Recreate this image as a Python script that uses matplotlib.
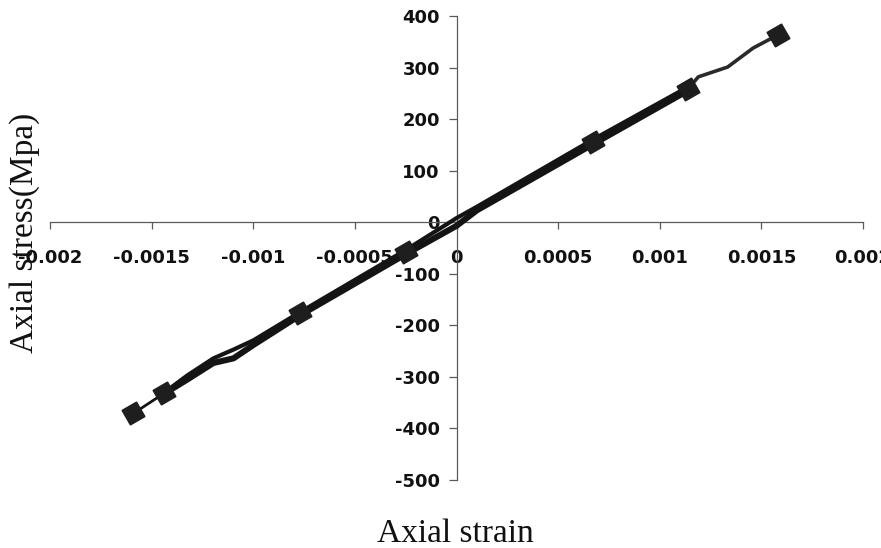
import matplotlib
matplotlib.use("Agg")
import matplotlib.pyplot as plt

# Stress-strain record of a tension/compression cycle
# upper and lower branches of the loop (strain, stress in MPa)
upper_strain = [-0.00144, -0.001324, -0.001196, -0.001097, -0.000999, -0.000768,
                -0.00025, 0.0, 0.0001, 0.00067, 0.001137]
upper_stress = [-331, -297, -264, -247, -229, -174, -54, 8, 30, 160, 262]

lower_strain = [-0.00144, -0.001324, -0.001196, -0.001097, -0.000999, -0.000768,
                -0.00025, 0.0, 0.0001, 0.00067, 0.001137]
lower_stress = [-333, -305, -273, -264, -238, -180, -62, -7, 23, 151, 255]

# thin end segments out to the extreme points
neg_tail_strain = [-0.00159, -0.00144]
neg_tail_stress = [-371, -332]
pos_tail_strain = [0.001137, 0.00119, 0.001334, 0.00146, 0.00158]
pos_tail_stress = [258, 282, 301, 338, 363]

# recorded peak points
peak_strain = [-0.00159, -0.00144, -0.000768, -0.00025, 0.00067, 0.001137, 0.00158]
peak_stress = [-371, -332, -177, -58, 155, 258, 363]

x_ticks = [-0.002, -0.0015, -0.001, -0.0005, 0, 0.0005, 0.001, 0.0015, 0.002]
x_tick_labels = ["-0.002", "-0.0015", "-0.001", "-0.0005", "0", "0.0005", "0.001", "0.0015", "0.002"]
y_ticks = [-500, -400, -300, -200, -100, 0, 100, 200, 300, 400]
y_tick_labels = ["-500", "-400", "-300", "-200", "-100", "0", "100", "200", "300", "400"]

W, H = 881, 548
fig = plt.figure(figsize=(W / 100, H / 100), dpi=100)
ax = fig.add_axes([50 / W, 1 - 480 / H, 813 / W, 464 / H])

line_col = "#141414"
ax.plot(lower_strain, lower_stress, color=line_col, lw=4.4, solid_capstyle="round", zorder=3)
ax.plot(upper_strain, upper_stress, color=line_col, lw=3.0, solid_capstyle="round", zorder=3)
ax.plot(neg_tail_strain, neg_tail_stress, color=line_col, lw=2.0, zorder=3)
ax.plot(pos_tail_strain, pos_tail_stress, color="#2a2a2a", lw=2.6, zorder=3)
ax.plot(peak_strain, peak_stress, linestyle="none", marker=(4, 0, 75), markersize=17,
        color="#1e1e1e", markeredgecolor="#1e1e1e", zorder=4)

ax.set_xlim(-0.002, 0.002)
ax.set_ylim(-500, 400)

for side in ("top", "right"):
    ax.spines[side].set_visible(False)
for side in ("left", "bottom"):
    ax.spines[side].set_position("zero")
    ax.spines[side].set_color("#5a5a5a")
    ax.spines[side].set_linewidth(0.9)

tick_font = dict(family="DejaVu Sans", weight="bold", size=13)
ax.set_xticks(x_ticks)
ax.set_xticklabels(x_tick_labels, fontdict=tick_font)
ax.set_yticks(y_ticks)
ax.set_yticklabels(y_tick_labels, fontdict=tick_font)
ax.tick_params(axis="x", direction="out", length=5, width=0.9, color="#5a5a5a", pad=14)
ax.tick_params(axis="y", direction="out", length=6, width=0.9, color="#5a5a5a", pad=6)
for lab in ax.get_xticklabels() + ax.get_yticklabels():
    lab.set_color("#111111")

fig.text(25 / W, 1 - 233 / H, "Axial stress(Mpa)", rotation=90, ha="center", va="center",
         family="Liberation Serif", fontsize=24, color="#111111")
fig.text(455 / W, 1 - 542 / H, "Axial strain", ha="center", va="baseline",
         family="Liberation Serif", fontsize=24, color="#111111")

fig.savefig("out.png", dpi=100)
